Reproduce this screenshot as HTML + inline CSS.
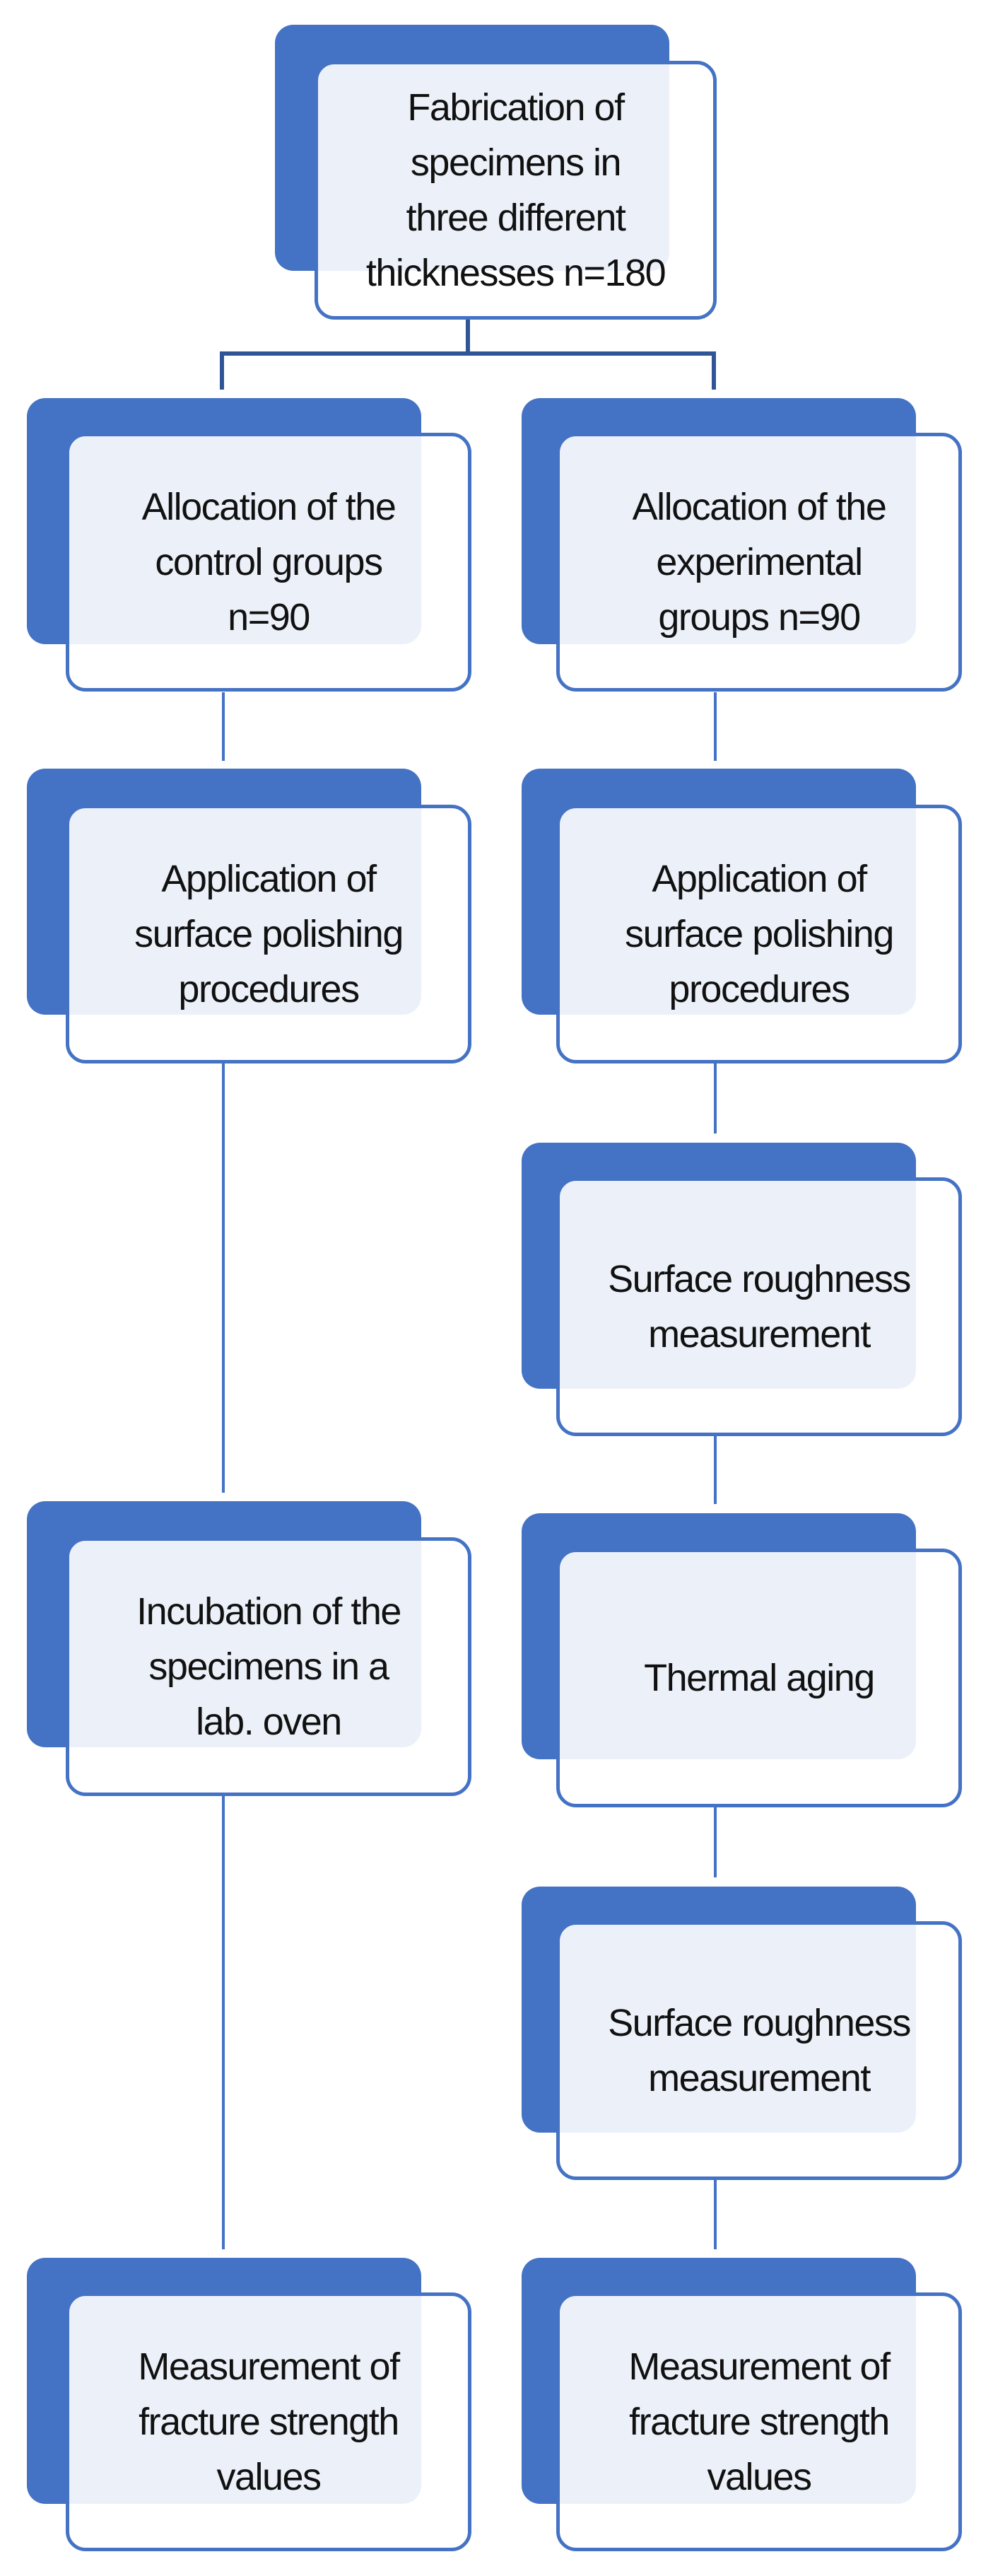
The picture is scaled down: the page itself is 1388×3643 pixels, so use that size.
<!DOCTYPE html>
<html><head><meta charset="utf-8"><style>
html,body{margin:0;padding:0;background:#fff;}
body{width:1388px;height:3643px;position:relative;overflow:hidden;font-family:"Liberation Sans",Arial,sans-serif;}
.d{position:absolute;background:#4472c4;border-radius:26px;width:558px;height:348px;}
.f{position:absolute;background:rgba(255,255,255,0.9);border:5px solid #4472c4;border-radius:28px;width:564px;height:356px;box-sizing:content-box;display:flex;align-items:center;justify-content:center;text-align:center;font-size:54px;line-height:78px;color:#111;letter-spacing:-1.5px;}
svg{position:absolute;left:0;top:0;}
</style></head><body>
<svg width="1388" height="3643">
<g stroke="#2f5597" stroke-width="6" fill="none">
<line x1="662" y1="450" x2="662" y2="500"/>
<polyline points="314,551 314,500 1010,500 1010,551"/>
</g>
<g stroke="#4472c4" stroke-width="4" fill="none">
<line x1="316" y1="979" x2="316" y2="1076"/>
<line x1="1012" y1="979" x2="1012" y2="1076"/>
<line x1="316" y1="1500" x2="316" y2="2111"/>
<line x1="1012" y1="1500" x2="1012" y2="1603"/>
<line x1="1012" y1="2029" x2="1012" y2="2127"/>
<line x1="316" y1="2536" x2="316" y2="3181"/>
<line x1="1012" y1="2552" x2="1012" y2="2655"/>
<line x1="1012" y1="3080" x2="1012" y2="3181"/>
</g>
</svg>

<div class="d" style="left:389px;top:35px;"></div>
<div class="f" style="left:445px;top:86px;width:559px;">Fabrication of<br>specimens in<br>three different<br>thicknesses n=180</div>

<div class="d" style="left:38px;top:563px;"></div>
<div class="f" style="left:93px;top:612px;">Allocation of the<br>control groups<br>n=90</div>
<div class="d" style="left:738px;top:563px;"></div>
<div class="f" style="left:787px;top:612px;">Allocation of the<br>experimental<br>groups n=90</div>

<div class="d" style="left:38px;top:1087px;"></div>
<div class="f" style="left:93px;top:1138px;">Application of<br>surface polishing<br>procedures</div>
<div class="d" style="left:738px;top:1087px;"></div>
<div class="f" style="left:787px;top:1138px;">Application of<br>surface polishing<br>procedures</div>

<div class="d" style="left:738px;top:1616px;"></div>
<div class="f" style="left:787px;top:1665px;">Surface roughness<br>measurement</div>

<div class="d" style="left:38px;top:2123px;"></div>
<div class="f" style="left:93px;top:2174px;">Incubation of the<br>specimens in a<br>lab. oven</div>
<div class="d" style="left:738px;top:2140px;"></div>
<div class="f" style="left:787px;top:2190px;">Thermal aging</div>

<div class="d" style="left:738px;top:2668px;"></div>
<div class="f" style="left:787px;top:2717px;">Surface roughness<br>measurement</div>

<div class="d" style="left:38px;top:3193px;"></div>
<div class="f" style="left:93px;top:3242px;">Measurement of<br>fracture strength<br>values</div>
<div class="d" style="left:738px;top:3193px;"></div>
<div class="f" style="left:787px;top:3242px;">Measurement of<br>fracture strength<br>values</div>
</body></html>
